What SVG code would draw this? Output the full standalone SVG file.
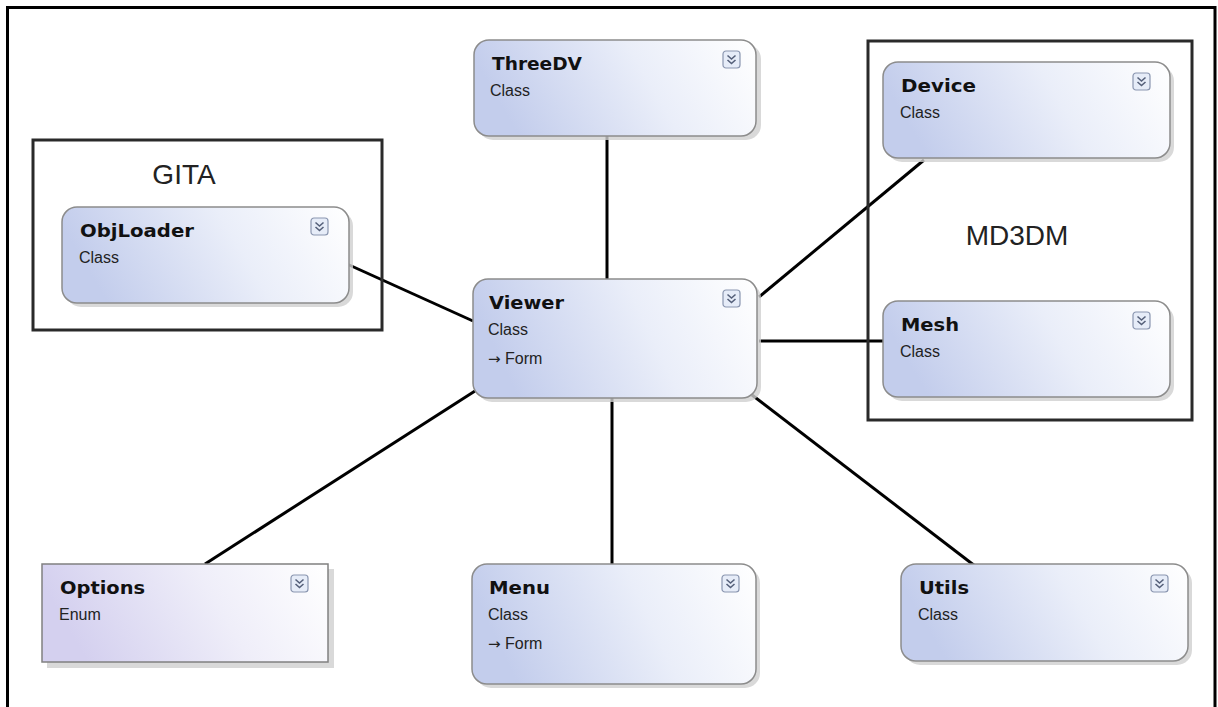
<svg xmlns="http://www.w3.org/2000/svg" width="1218" height="707" viewBox="0 0 1218 707">
<style>
.frame{fill:none;stroke:#000;stroke-width:3}
.pkg{fill:none;stroke:#2a2a2a;stroke-width:3}
.pkgt{font-family:"Liberation Sans",Arial,sans-serif;font-size:28px;fill:#222}
.box{fill:url(#g);stroke:#8c8c8c;stroke-width:1.5}
.ebox{fill:url(#ge);stroke:#808080;stroke-width:1.5}
.sh{fill:#cfcfcf;opacity:0.8}
.t{font-family:"DejaVu Sans",Verdana,sans-serif;font-weight:bold;font-size:18px;fill:#111}
.s{font-family:"Liberation Sans",Arial,sans-serif;font-size:16px;fill:#222}
.ar{font-family:"DejaVu Sans",sans-serif;font-size:15px;fill:#222}
.ic{fill:#e6ecf8;stroke:#8a96b0;stroke-width:1.2}
.chev{fill:none;stroke:#55607a;stroke-width:1.6}
.c{stroke:#000;stroke-width:3;fill:none}
</style>
<defs>
<linearGradient id="g" x1="0" y1="0.2" x2="1" y2="0">
<stop offset="0" stop-color="#c3cdec"/>
<stop offset="0.55" stop-color="#eaeef9"/>
<stop offset="1" stop-color="#ffffff"/>
</linearGradient>
<linearGradient id="ge" x1="0" y1="0.2" x2="1" y2="0">
<stop offset="0" stop-color="#d4d0ef"/>
<stop offset="0.55" stop-color="#efeef9"/>
<stop offset="1" stop-color="#ffffff"/>
</linearGradient>
<g id="icon">
<rect class="ic" x="0" y="0" width="17" height="17" rx="3"/>
<path class="chev" d="M4.5 4.5 L8.5 8 L12.5 4.5 M4.5 9 L8.5 12.5 L12.5 9"/>
</g>
</defs>
<rect width="1218" height="707" fill="#fff"/>
<path class="frame" d="M7.5 712 V7.5 H1215 V712"/>

<g id="connectors">
<line class="c" x1="607" y1="136" x2="607" y2="279"/>
<line class="c" x1="347" y1="264" x2="473" y2="321"/>
<line class="c" x1="924" y1="160" x2="759" y2="297"/>
<line class="c" x1="759" y1="341" x2="883" y2="341"/>
<line class="c" x1="205" y1="564" x2="475" y2="391"/>
<line class="c" x1="612" y1="398" x2="612" y2="564"/>
<line class="c" x1="752" y1="395" x2="975" y2="566"/>
</g>

<g id="GITA">
<rect class="pkg" x="33" y="140" width="349" height="190"/>
<text class="pkgt" x="184" y="184" text-anchor="middle">GITA</text>
</g>
<g id="MD3DM">
<rect class="pkg" x="868" y="41" width="324" height="379"/>
<text class="pkgt" x="1017" y="245" text-anchor="middle" font-size="29">MD3DM</text>
</g>

<g id="ThreeDV">
<rect class="sh" x="478" y="44" width="283" height="96" rx="15"/>
<rect class="box" x="474" y="40" width="282" height="96" rx="15"/>
<text class="t" x="492" y="70" textLength="90" lengthAdjust="spacingAndGlyphs">ThreeDV</text>
<text class="s" x="490" y="96">Class</text>
<use href="#icon" x="723" y="51"/>
</g>

<g id="ObjLoader">
<rect class="sh" x="66" y="211" width="287" height="96" rx="15"/>
<rect class="box" x="62" y="207" width="287" height="96" rx="15"/>
<text class="t" x="80" y="237" textLength="114" lengthAdjust="spacingAndGlyphs">ObjLoader</text>
<text class="s" x="79" y="263">Class</text>
<use href="#icon" x="311" y="218"/>
</g>

<g id="Device">
<rect class="sh" x="887" y="66" width="287" height="96" rx="15"/>
<rect class="box" x="883" y="62" width="287" height="96" rx="15"/>
<text class="t" x="901" y="92" textLength="75" lengthAdjust="spacingAndGlyphs">Device</text>
<text class="s" x="900" y="118">Class</text>
<use href="#icon" x="1133" y="73"/>
</g>

<g id="Mesh">
<rect class="sh" x="887" y="305" width="287" height="96" rx="15"/>
<rect class="box" x="883" y="301" width="287" height="96" rx="15"/>
<text class="t" x="901" y="331" textLength="58" lengthAdjust="spacingAndGlyphs">Mesh</text>
<text class="s" x="900" y="357">Class</text>
<use href="#icon" x="1133" y="312"/>
</g>

<g id="Viewer">
<rect class="sh" x="477" y="283" width="284" height="119" rx="15"/>
<rect class="box" x="473" y="279" width="284" height="119" rx="15"/>
<text class="t" x="489" y="309" textLength="75" lengthAdjust="spacingAndGlyphs">Viewer</text>
<text class="s" x="488" y="335">Class</text>
<text class="s" x="488" y="364"><tspan class="ar">→</tspan> Form</text>
<use href="#icon" x="723" y="290"/>
</g>

<g id="Options">
<rect class="sh" x="47" y="569" width="287" height="99"/>
<rect class="ebox" x="42" y="564" width="286" height="98"/>
<text class="t" x="60" y="594" textLength="85" lengthAdjust="spacingAndGlyphs">Options</text>
<text class="s" x="59" y="620">Enum</text>
<use href="#icon" x="291" y="575"/>
</g>

<g id="Menu">
<rect class="sh" x="476" y="568" width="284" height="120" rx="15"/>
<rect class="box" x="472" y="564" width="284" height="120" rx="15"/>
<text class="t" x="489" y="594" textLength="61" lengthAdjust="spacingAndGlyphs">Menu</text>
<text class="s" x="488" y="620">Class</text>
<text class="s" x="488" y="649"><tspan class="ar">→</tspan> Form</text>
<use href="#icon" x="722" y="575"/>
</g>

<g id="Utils">
<rect class="sh" x="905" y="568" width="287" height="97" rx="15"/>
<rect class="box" x="901" y="564" width="287" height="97" rx="15"/>
<text class="t" x="919" y="594" textLength="50" lengthAdjust="spacingAndGlyphs">Utils</text>
<text class="s" x="918" y="620">Class</text>
<use href="#icon" x="1151" y="575"/>
</g>
</svg>
